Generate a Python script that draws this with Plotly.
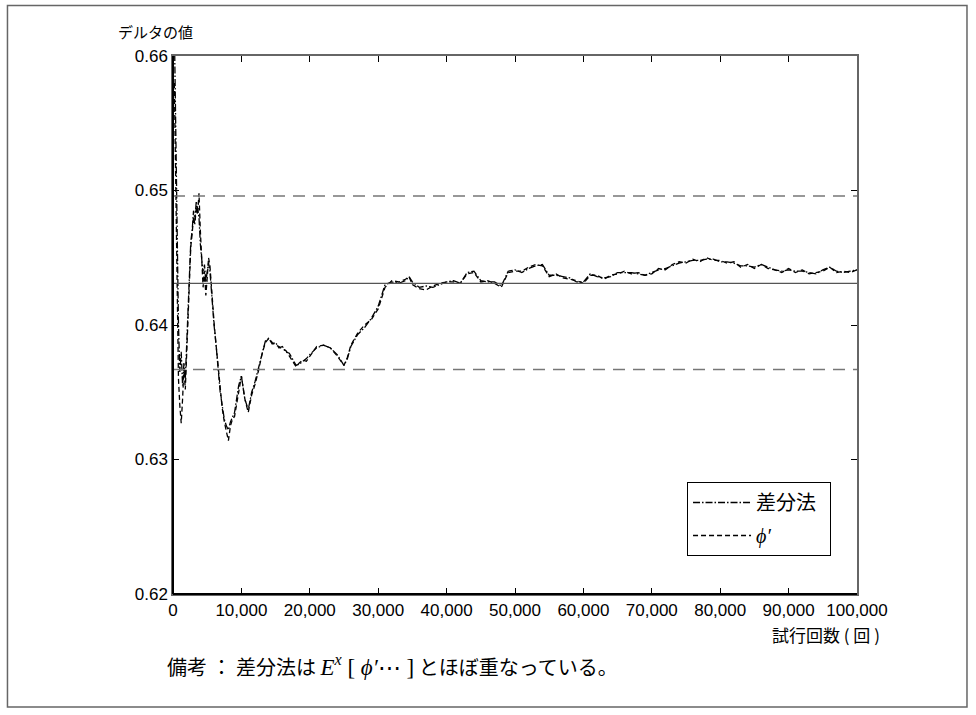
import plotly.graph_objects as go

# Trial counts and running delta estimates for the two estimators
trials = [
    200, 400, 600, 800, 1000, 1200, 1400, 1600, 1800, 2000,
    2200, 2400, 2600, 2800, 3000, 3200, 3400, 3600, 3800, 4000,
    4200, 4400, 4600, 4800, 5000, 5200, 5400, 5600, 5800, 6000,
    6300, 6600, 6900, 7200, 7500, 7800, 8100, 8400, 8700, 9000,
    9300, 9600, 10000, 10500, 11000, 11500, 12000, 12500, 13000, 13500,
    14000, 14500, 15000, 15500, 16000, 16500, 17000, 17500, 18000, 18500,
    19000, 19500, 20000, 21000, 22000, 23000, 24000, 25000, 25500, 26000,
    27000, 28000, 29000, 30000, 30500, 31000, 32000, 33000, 34000, 34500,
    35000, 36000, 37000, 38000, 39000, 40000, 41000, 42000, 43000, 44000,
    45000, 46000, 47000, 48000, 49000, 50000, 51000, 52000, 53000, 54000,
    55000, 56000, 57000, 58000, 59000, 60000, 61000, 62000, 63000, 64000,
    65000, 66000, 67000, 68000, 69000, 70000, 71000, 72000, 73000, 74000,
    75000, 76000, 77000, 78000, 79000, 80000, 81000, 82000, 83000, 84000,
    85000, 86000, 87000, 88000, 89000, 90000, 91000, 92000, 93000, 94000,
    95000, 96000, 97000, 98000, 99000, 100000,
]

delta_diff = [
    0.6620, 0.6540, 0.6460, 0.6400, 0.6365, 0.6380, 0.6355, 0.6372, 0.6360, 0.6385,
    0.6410, 0.6440, 0.6462, 0.6470, 0.6485, 0.6478, 0.6492, 0.6486, 0.6480, 0.6460,
    0.6448, 0.6438, 0.6445, 0.6432, 0.6440, 0.6446, 0.6440, 0.6425, 0.6415, 0.6400,
    0.6385, 0.6365, 0.6350, 0.6340, 0.6330, 0.6325, 0.6322, 0.6328, 0.6332, 0.6335,
    0.6345, 0.6355, 0.6362, 0.6345, 0.6337, 0.6350, 0.6358, 0.6368, 0.6380, 0.6388,
    0.6390, 0.6386, 0.6387, 0.6383, 0.6384, 0.6380, 0.6379, 0.6375, 0.6370, 0.6371,
    0.6373, 0.6375, 0.6378, 0.6383, 0.6385, 0.6383, 0.6378, 0.6370, 0.6375, 0.6384,
    0.6393, 0.6398, 0.6405, 0.6414, 0.6422, 0.6430, 0.6432, 0.6431, 0.6433, 0.6436,
    0.6432, 0.6428, 0.6429, 0.6428, 0.6430, 0.6432, 0.6433, 0.6431, 0.6439, 0.6440,
    0.6433, 0.6432, 0.6432, 0.6429, 0.6440, 0.6441, 0.6439, 0.6442, 0.6444, 0.6445,
    0.6437, 0.6437, 0.6436, 0.6435, 0.6432, 0.6432, 0.6438, 0.6436, 0.6435, 0.6436,
    0.6439, 0.6439, 0.6439, 0.6438, 0.6437, 0.6439, 0.6441, 0.6442, 0.6444, 0.6446,
    0.6447, 0.6448, 0.6448, 0.6449, 0.6449, 0.6447, 0.6447, 0.6446, 0.6444, 0.6444,
    0.6443, 0.6445, 0.6443, 0.6441, 0.6440, 0.6441, 0.6440, 0.6440, 0.6439, 0.6438,
    0.6441, 0.6443, 0.6440, 0.6439, 0.6440, 0.6441,
]

delta_phi = [
    0.6580, 0.6500, 0.6420, 0.6360, 0.6340, 0.6327, 0.6345, 0.6368, 0.6352, 0.6380,
    0.6405, 0.6435, 0.6458, 0.6468, 0.6480, 0.6475, 0.6488, 0.6482, 0.6498, 0.6470,
    0.6445, 0.6428, 0.6440, 0.6422, 0.6435, 0.6450, 0.6444, 0.6428, 0.6418, 0.6402,
    0.6385, 0.6368, 0.6350, 0.6338, 0.6328, 0.6322, 0.6314, 0.6325, 0.6330, 0.6332,
    0.6342, 0.6352, 0.6362, 0.6345, 0.6335, 0.6348, 0.6356, 0.6366, 0.6378, 0.6387,
    0.6390, 0.6387, 0.6385, 0.6384, 0.6382, 0.6381, 0.6377, 0.6374, 0.6369, 0.6372,
    0.6374, 0.6373, 0.6377, 0.6384, 0.6385, 0.6383, 0.6377, 0.6370, 0.6376, 0.6385,
    0.6394, 0.6400, 0.6404, 0.6412, 0.6420, 0.6428, 0.6433, 0.6432, 0.6434, 0.6436,
    0.6430, 0.6427, 0.6426, 0.6429, 0.6431, 0.6432, 0.6432, 0.6431, 0.6438, 0.6439,
    0.6432, 0.6433, 0.6431, 0.6428, 0.6439, 0.6440, 0.6440, 0.6443, 0.6445, 0.6444,
    0.6436, 0.6438, 0.6435, 0.6434, 0.6433, 0.6431, 0.6437, 0.6437, 0.6434, 0.6437,
    0.6438, 0.6440, 0.6438, 0.6439, 0.6437, 0.6438, 0.6442, 0.6441, 0.6445, 0.6447,
    0.6446, 0.6449, 0.6447, 0.6450, 0.6448, 0.6448, 0.6446, 0.6447, 0.6443, 0.6445,
    0.6442, 0.6445, 0.6442, 0.6441, 0.6439, 0.6442, 0.6439, 0.6441, 0.6438, 0.6439,
    0.6440, 0.6443, 0.6439, 0.6440, 0.6439, 0.6441,
]

# Reference level and band
true_delta = 0.6431
band_upper = 0.6496
band_lower = 0.6367

x_ticks = [0, 10000, 20000, 30000, 40000, 50000, 60000, 70000, 80000, 90000, 100000]
x_tick_text = ["0", "10,000", "20,000", "30,000", "40,000", "50,000",
               "60,000", "70,000", "80,000", "90,000", "100,000"]
y_ticks = [0.62, 0.63, 0.64, 0.65, 0.66]
y_tick_text = ["0.62", "0.63", "0.64", "0.65", "0.66"]

SANS = "Liberation Sans, Arial, Noto Sans CJK JP, sans-serif"
JP = "Noto Sans CJK JP, Liberation Sans, sans-serif"
SERIF = "Liberation Serif, DejaVu Serif, serif"

fig = go.Figure()

fig.add_trace(go.Scatter(
    x=trials, y=delta_diff, mode="lines", name="差分法\u00a0\u00a0",
    legendgroup="a",
    line=dict(color="#000000", width=1.3, dash="7px,2px,1.5px,2px"),
))
fig.add_trace(go.Scatter(
    x=trials, y=delta_phi, mode="lines",
    name=f"<span style='font-family:{SERIF}'><i>ϕ′</i></span>",
    legendgroup="b",
    line=dict(color="#000000", width=1.3, dash="5px,3px"),
))

fig.update_xaxes(
    range=[0, 100000], tickvals=x_ticks, ticktext=x_tick_text,
    ticks="inside", ticklen=6, tickcolor="#000000", tickwidth=1,
    showline=True, linecolor="#666666", linewidth=1.5, mirror="ticks",
    showgrid=False, zeroline=False,
    tickfont=dict(family=SANS, size=17, color="#000000"),
)
fig.update_yaxes(
    range=[0.62, 0.66], tickvals=y_ticks, ticktext=y_tick_text,
    ticks="inside", ticklen=6, tickcolor="#000000", tickwidth=1,
    showline=True, linecolor="#666666", linewidth=1.5, mirror="ticks",
    showgrid=False, zeroline=False,
    tickfont=dict(family=SANS, size=17, color="#000000"),
)

shapes = [
    # outer frame
    dict(type="rect", xref="paper", yref="paper", x0=-0.2420, x1=1.1608, y0=-0.2100, y1=1.0939,
         line=dict(color="#666666", width=1.5), fillcolor="rgba(0,0,0,0)", layer="below"),
    # reference level and band
    dict(type="line", xref="x domain", yref="y", x0=0, x1=1, y0=true_delta, y1=true_delta,
         line=dict(color="#555555", width=1.2)),
    dict(type="line", xref="x domain", yref="y", x0=0, x1=1, y0=band_upper, y1=band_upper,
         line=dict(color="#777777", width=1.5, dash="12px,8px")),
    dict(type="line", xref="x domain", yref="y", x0=0, x1=1, y0=band_lower, y1=band_lower,
         line=dict(color="#777777", width=1.5, dash="12px,8px")),
    # dark left and bottom axes
    dict(type="line", xref="paper", yref="paper", x0=0, x1=0, y0=0, y1=1,
         line=dict(color="#000000", width=2)),
    dict(type="line", xref="paper", yref="paper", x0=0, x1=1, y0=0, y1=0,
         line=dict(color="#000000", width=2)),
]

annotations = [
    dict(text="デルタの値", xref="paper", yref="paper", x=-0.083, y=1.045,
         xanchor="left", yanchor="middle", showarrow=False,
         font=dict(family=JP, size=15, color="#000000")),
    dict(text="試行回数 ( 回 )", xref="paper", yref="paper", x=1.037, y=-0.076,
         xanchor="right", yanchor="middle", showarrow=False,
         font=dict(family=JP, size=17, color="#000000")),
    dict(text=("備考 ： 差分法は "
               f"<span style='font-family:{SERIF};font-size:23px'><i>E</i><sup><i>x</i></sup> [ <i>ϕ′</i>⋯ ]</span>"
               " とほぼ重なっている。"),
         xref="paper", yref="paper", x=-0.011, y=-0.134,
         xanchor="left", yanchor="middle", showarrow=False,
         font=dict(family=JP, size=20, color="#000000")),
]

fig.update_layout(
    width=976, height=715,
    margin=dict(l=173, r=119, t=56, b=121),
    paper_bgcolor="#ffffff", plot_bgcolor="#ffffff",
    shapes=shapes, annotations=annotations,
    showlegend=True,
    legend=dict(
        x=0.7515, y=0.2082, xanchor="left", yanchor="top",
        bgcolor="#ffffff", bordercolor="#000000", borderwidth=1,
        font=dict(family=JP, size=20, color="#000000"),
        tracegroupgap=4, traceorder="grouped", itemwidth=58,
    ),
)

fig.write_html("out.html")
